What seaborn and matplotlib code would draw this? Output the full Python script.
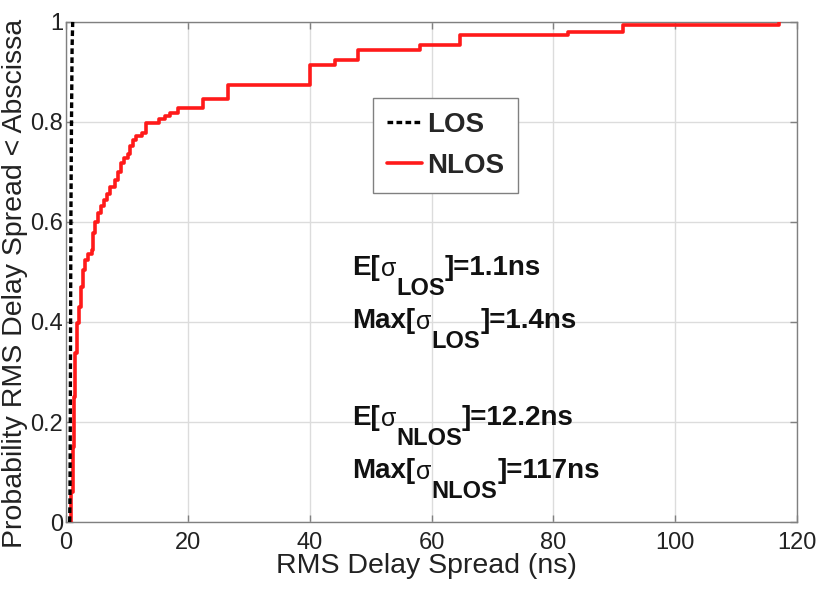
import numpy as np
import pandas as pd
import matplotlib
matplotlib.use("Agg")
import matplotlib.pyplot as plt
import seaborn as sns

# ---- data ----
los_x = [0.6, 0.65, 0.7, 0.75, 0.8, 0.9, 1.0, 1.1]
los_y = [0.0, 0.05, 0.2, 0.4, 0.6, 0.8, 0.95, 1.0]

nlos_x = [0.7, 0.9, 1.1, 1.3, 1.5, 1.8, 2.1, 2.5, 2.8, 3.1, 3.6, 4.2, 4.5, 4.8,
          5.2, 5.7, 6.3, 6.8, 7.3, 8.0, 8.6, 9.1, 9.6, 10.1, 10.5, 11.0, 11.5,
          12.4, 13.2, 15.2, 16.2, 17.1, 18.4, 22.5, 26.6, 40.1, 44.2, 48.0,
          58.1, 64.7, 82.4, 91.5, 117.0]
nlos_y = [0.0, 0.06, 0.15, 0.25, 0.338, 0.398, 0.43, 0.47, 0.504, 0.524,
          0.535, 0.544, 0.578, 0.60, 0.618, 0.632, 0.644, 0.656, 0.67, 0.684,
          0.70, 0.718, 0.728, 0.736, 0.752, 0.764, 0.772, 0.778, 0.798, 0.806,
          0.812, 0.818, 0.828, 0.846, 0.874, 0.914, 0.924, 0.944, 0.954,
          0.974, 0.98, 0.994, 1.0]

x_ticks = [0, 20, 40, 60, 80, 100, 120]
y_ticks = [0, 0.2, 0.4, 0.6, 0.8, 1]
y_ticklabels = ["0", "0.2", "0.4", "0.6", "0.8", "1"]

# annotation lines: (x, y, prefix, subscript, suffix)
annotations = [
    (47.0, 0.494, "E[", "LOS", "]=1.1ns"),
    (47.0, 0.388, "Max[", "LOS", "]=1.4ns"),
    (47.0, 0.194, "E[", "NLOS", "]=12.2ns"),
    (47.0, 0.088, "Max[", "NLOS", "]=117ns"),
]

sns.set_theme(style="white")
plt.rcParams["font.family"] = ["Liberation Sans", "DejaVu Sans"]

fig = plt.figure(figsize=(8.2, 5.93), dpi=100)
ax = fig.add_axes([0.0805, 0.1197, 0.8915, 0.8433])

los_df = pd.DataFrame({"x": los_x, "y": los_y})
nlos_df = pd.DataFrame({"x": nlos_x, "y": nlos_y})

sns.lineplot(data=los_df, x="x", y="y", ax=ax, color="black", lw=2.4,
             linestyle=(0, (1.7, 1.0)), sort=False, label="LOS", zorder=4)
sns.lineplot(data=nlos_df, x="x", y="y", ax=ax, color="#ff1a1a", lw=2.6,
             drawstyle="steps-post", sort=False, label="NLOS", zorder=3)

ax.set_xlim(0, 120)
ax.set_ylim(0, 1)
ax.set_xticks(x_ticks)
ax.set_xticklabels([str(t) for t in x_ticks])
ax.set_yticks(y_ticks)
ax.set_yticklabels(y_ticklabels)
ax.grid(True, color="#dcdcdc", lw=1.0)
ax.set_axisbelow(True)
for s in ax.spines.values():
    s.set_color("#808080")
    s.set_linewidth(1.0)
ax.tick_params(axis="both", which="both", direction="in", length=5,
               width=1.0, color="#808080", labelsize=17,
               top=True, right=True, bottom=True, left=True,
               labelcolor="#222222")
ax.tick_params(axis="x", pad=7)
ax.tick_params(axis="y", pad=2)

ax.set_xlabel("RMS Delay Spread (ns)", fontsize=20.5, color="#222222")
ax.xaxis.set_label_coords(0.493, -0.062)
ax.set_ylabel("Probability RMS Delay Spread < Abscissa", fontsize=20.5,
              color="#222222")
ax.yaxis.set_label_coords(-0.052, 0.478)


def rich_line(x, y, prefix, sub, suffix):
    first = ax.text(x, y, prefix, fontsize=20, fontweight="bold",
                    color="#111111", ha="left", va="baseline")
    sig = ax.annotate("\u03c3", xy=(1, 0), xycoords=(first, first),
                      xytext=(0.5, 0), textcoords="offset points",
                      fontsize=18, fontweight="normal", color="#111111",
                      ha="left", va="bottom")
    subt = ax.annotate(sub, xy=(1, 0), xycoords=(sig, first),
                       xytext=(0, -13.5), textcoords="offset points",
                       fontsize=17, fontweight="bold", color="#111111",
                       ha="left", va="bottom")
    ax.annotate(suffix, xy=(1, 0), xycoords=(subt, first),
                xytext=(0, 0), textcoords="offset points",
                fontsize=20, fontweight="bold", color="#111111",
                ha="left", va="bottom")


for (tx, ty, pre, sub, suf) in annotations:
    rich_line(tx, ty, pre, sub, suf)

leg = ax.legend(loc="upper left", bbox_to_anchor=(0.420, 0.848),
                borderaxespad=0,
                prop={"weight": "bold", "size": 20}, frameon=True,
                fancybox=False, edgecolor="#808080", framealpha=1,
                handlelength=1.25, handletextpad=0.18, borderpad=0.5,
                labelspacing=0.55)
leg.get_frame().set_linewidth(1.0)

fig.savefig("out.png", dpi=100)
